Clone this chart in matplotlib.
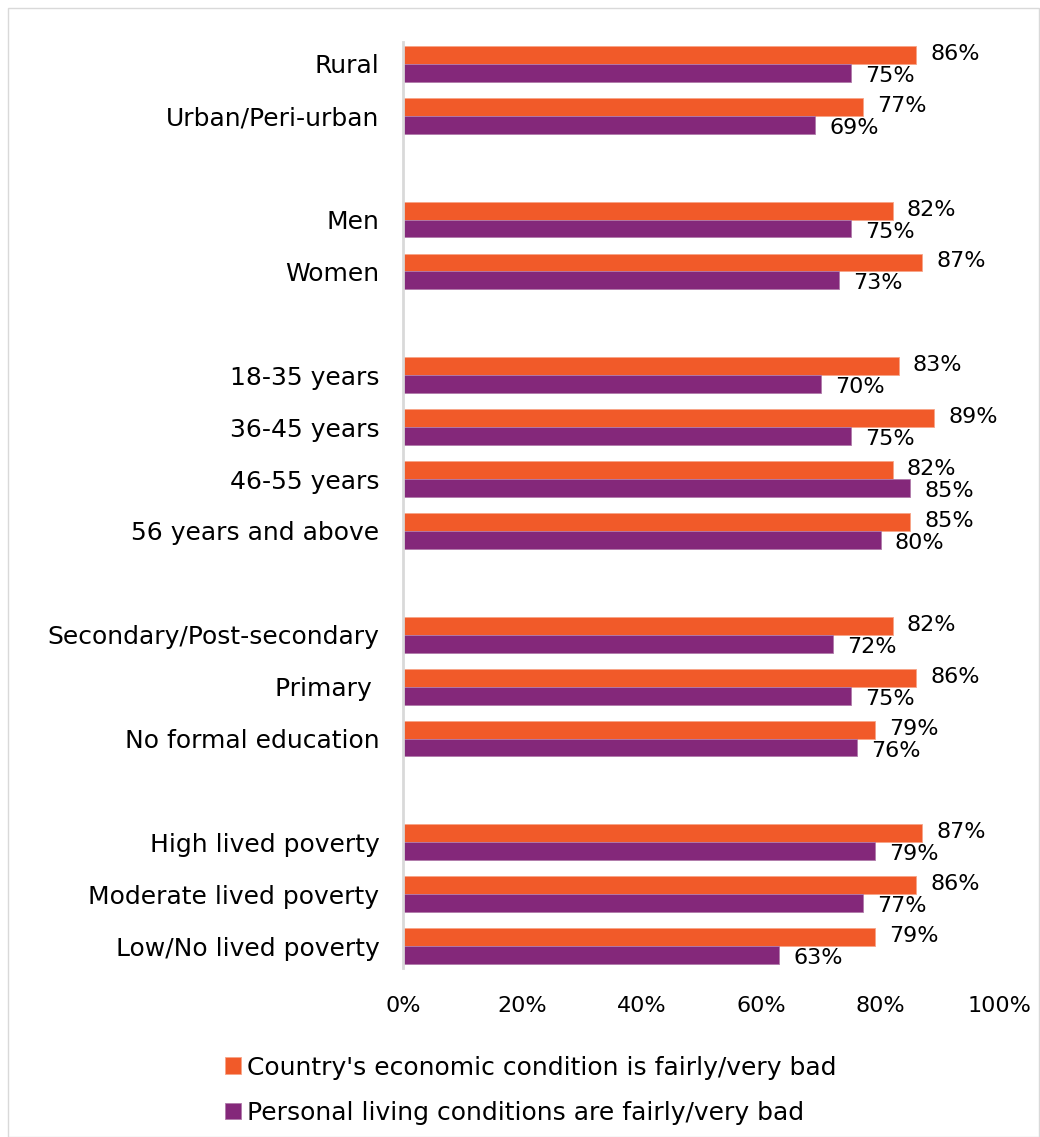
import numpy as np
import matplotlib.pyplot as plt
from matplotlib.patches import Rectangle

plt.rcParams['font.family'] = ['DejaVu Sans']

# Groups of respondents, top to bottom (None = spacer between groups)
categories = ["Rural", "Urban/Peri-urban", None,
              "Men", "Women", None,
              "18-35 years", "36-45 years", "46-55 years", "56 years and above", None,
              "Secondary/Post-secondary", "Primary ", "No formal education", None,
              "High lived poverty", "Moderate lived poverty", "Low/No lived poverty"]

country_bad = [86, 77, 82, 87, 83, 89, 82, 85, 82, 86, 79, 87, 86, 79]
personal_bad = [75, 69, 75, 73, 70, 75, 85, 80, 72, 75, 76, 79, 77, 63]

series_names = ["Country's economic condition is fairly/very bad",
                "Personal living conditions are fairly/very bad"]
colors = ["#F15A29", "#84287A"]

pos = np.array([i for i, c in enumerate(categories) if c is not None])
labels = [c for c in categories if c is not None]

fig = plt.figure(figsize=(10.4, 11.37), dpi=100)
ax = fig.add_axes([403/1040, 1 - 968/1137, 597/1040, (968 - 42)/1137])

h = 0.345
b1 = ax.barh(pos - h/2, country_bad, height=h, color=colors[0],
             edgecolor="#F7A488", linewidth=0.6, label=series_names[0])
b2 = ax.barh(pos + h/2, personal_bad, height=h, color=colors[1],
             edgecolor="#B07AAA", linewidth=0.6, label=series_names[1])

fs = 16
for y, v in zip(pos, country_bad):
    ax.text(v + 2.4, y - h/2 - 0.02, f"{v}%", va="center", ha="left", fontsize=fs)
for y, v in zip(pos, personal_bad):
    ax.text(v + 2.4, y + h/2 + 0.06, f"{v}%", va="center", ha="left", fontsize=fs)

ax.set_xlim(0, 100)
ax.set_ylim(len(categories) - 1 + 0.42, -0.42)
ax.set_yticks(pos)
ax.set_yticklabels(labels, fontsize=18)
ax.set_xticks(np.arange(0, 101, 20))
ax.set_xticklabels([f"{t}%" for t in range(0, 101, 20)], fontsize=fs)
ax.tick_params(axis="both", length=0)
ax.tick_params(axis="y", pad=17)
ax.tick_params(axis="x", pad=20)

for s in ["top", "right", "bottom"]:
    ax.spines[s].set_visible(False)
ax.spines["left"].set_color("#D9D9D9")
ax.spines["left"].set_linewidth(2)

fig.legend(handles=[b1, b2], labels=series_names, loc="upper left",
           bbox_to_anchor=(212/1040, 1 - 1043/1137), frameon=False,
           fontsize=18, handlelength=0.65, handleheight=0.65,
           handletextpad=0.25, labelspacing=0.85, borderpad=0)

# light frame around the chart area
fig.patches.append(Rectangle((8/1040, 0), 1 - 8/1040 - 1/1040, 1 - 8/1137,
                             transform=fig.transFigure, fill=False,
                             edgecolor="#D9D9D9", linewidth=1))

fig.savefig("out.png", dpi=100)
